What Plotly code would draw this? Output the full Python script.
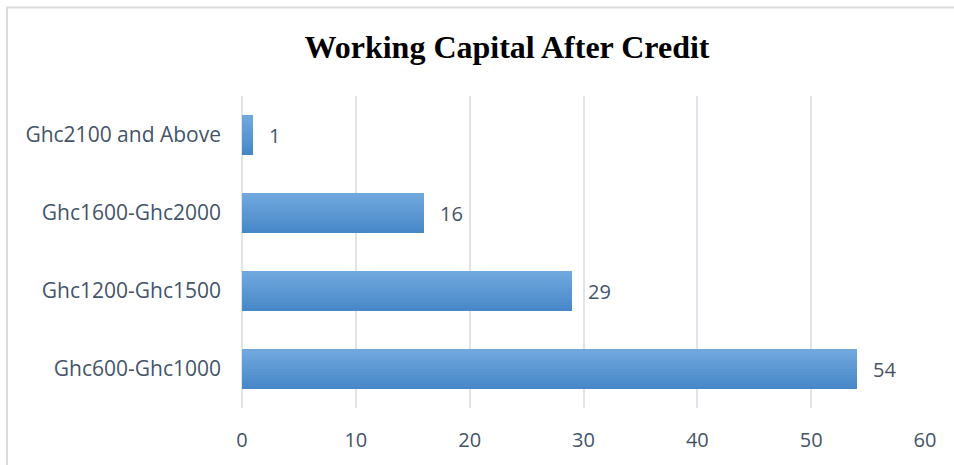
import plotly.graph_objects as go

# Working capital brackets (bottom to top) and number of respondents
categories = ["Ghc600-Ghc1000", "Ghc1200-Ghc1500", "Ghc1600-Ghc2000", "Ghc2100 and Above"]
counts = [54, 29, 16, 1]
x_ticks = [0, 10, 20, 30, 40, 50, 60]

TEXT_COLOR = "#44546a"
FONT = "Open Sans"
GRID = "#dfe3ea"

fig = go.Figure()

# Vertical gradient on each bar: stack thin overlaid slices from dark (bottom) to light (top)
bar_width = 0.51
n_slices = 14
dark = (72, 136, 200)
light = (112, 168, 222)
slice_w = bar_width / n_slices
for i in range(n_slices):
    t = i / (n_slices - 1)
    rgb = tuple(round(d + (l - d) * t) for d, l in zip(dark, light))
    fig.add_trace(go.Bar(
        x=counts,
        y=categories,
        orientation="h",
        width=slice_w * 1.08,
        offset=-bar_width / 2 + i * slice_w,
        marker=dict(color="rgb(%d,%d,%d)" % rgb, line=dict(width=0)),
        hoverinfo="skip",
        showlegend=False,
    ))

# Value labels to the right of each bar
for cat, val in zip(categories, counts):
    fig.add_annotation(
        x=val, y=cat, text=str(val), showarrow=False,
        xanchor="left", yanchor="middle", xshift=14,
        font=dict(family=FONT, size=20, color=TEXT_COLOR),
    )

fig.update_layout(
    width=954, height=465,
    margin=dict(l=242, r=29, t=96, b=55),
    paper_bgcolor="white", plot_bgcolor="white",
    barmode="overlay", bargap=0,
    title=dict(
        text="<b>Working Capital After Credit</b>",
        x=507 / 954, xanchor="center", xref="container",
        y=1 - 47 / 465, yanchor="middle", yref="container",
        font=dict(family="Liberation Serif", size=32, color="black"),
    ),
    xaxis=dict(
        range=[0, 60], tickvals=x_ticks, showgrid=True,
        gridcolor=GRID, gridwidth=2,
        zeroline=True, zerolinecolor=GRID, zerolinewidth=2,
        showline=False, ticks="", ticklabelstandoff=18,
        tickfont=dict(family=FONT, size=20, color=TEXT_COLOR),
        fixedrange=True,
    ),
    yaxis=dict(
        categoryorder="array", categoryarray=categories,
        range=[-0.5, 3.5], showgrid=False, zeroline=False,
        showline=False, ticks="", ticklabelstandoff=20,
        tickfont=dict(family=FONT, size=21, color=TEXT_COLOR),
        fixedrange=True,
    ),
)

# Light chart-area border (left and top edges)
fig.add_shape(type="rect", xref="paper", yref="paper",
              x0=-235 / 683, x1=1 + 40 / 683, y0=-70 / 314, y1=1 + 89 / 314,
              line=dict(color="#dcdcdc", width=2), layer="below")

fig.write_html("out.html")
